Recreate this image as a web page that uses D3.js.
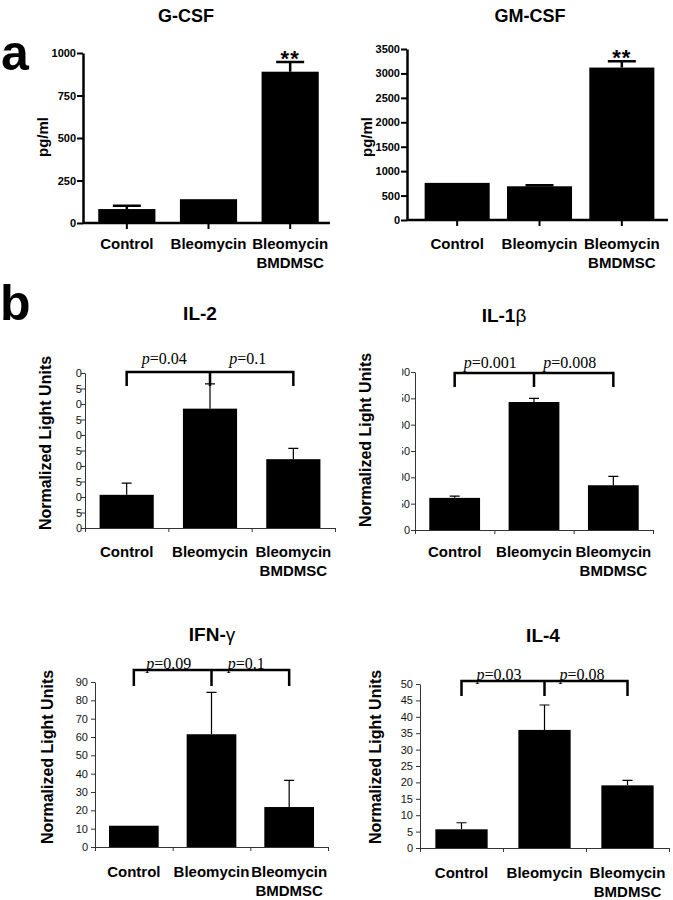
<!DOCTYPE html>
<html>
<head>
<meta charset="utf-8">
<script src="https://cdn.jsdelivr.net/npm/d3@7"></script>
<style>
  body { margin: 0; background: #fff; }
  svg { display: block; }
</style>
</head>
<body>
<div id="chart"></div>
<script>
const groups = ["Control", "Bleomycin", "Bleomycin BMDMSC"];

// panel a (pg/ml)
const gcsfMean = [82, 140, 890];
const gcsfErr = [20, 0, 57];
const gcsfTicks = [0, 250, 500, 750, 1000];
const gmcsfMean = [760, 690, 3120];
const gmcsfErr = [0, 20, 130];
const gmcsfTicks = [0, 500, 1000, 1500, 2000, 2500, 3000, 3500];

// panel b (normalized light units)
const il2Mean = [10.7, 38.5, 22.2];
const il2Err = [3.8, 8.0, 3.5];
const il2Ticks = [0, 5, 10, 15, 20, 25, 30, 35, 40, 45, 50];
const il2P = ["0.04", "0.1"];

const il1bMean = [61, 243, 85];
const il1bErr = [3.5, 7, 17];
const il1bTicks = [0, 50, 100, 150, 200, 250, 300];
const il1bP = ["0.001", "0.008"];

const ifngMean = [11.6, 61.5, 21.8];
const ifngErr = [0, 22.8, 14.5];
const ifngTicks = [0, 10, 20, 30, 40, 50, 60, 70, 80, 90];
const ifngP = ["0.09", "0.1"];

const il4Mean = [5.7, 36, 19.1];
const il4Err = [2.0, 7.6, 1.5];
const il4Ticks = [0, 5, 10, 15, 20, 25, 30, 35, 40, 45, 50];
const il4P = ["0.03", "0.08"];

const sans = "'Liberation Sans', Arial, Helvetica, sans-serif";
const serif = "'Liberation Serif', 'Times New Roman', serif";

const svg = d3.select("#chart")
    .append("svg")
    .attr("width", 673)
    .attr("height", 900)
    .style("font-family", sans);

svg.append("rect").attr("width", 673).attr("height", 900).attr("fill", "#fff");

// title with greek letters in normal weight
function addTitle(g, text, x, y, size) {
    const t = g.append("text")
        .attr("x", x).attr("y", y)
        .attr("text-anchor", "middle")
        .style("font-size", size + "px")
        .style("font-weight", "bold");
    text.split(/([α-ω])/).filter(s => s.length).forEach(s => {
        t.append("tspan")
            .style("font-weight", /[α-ω]/.test(s) ? "normal" : "bold")
            .text(s);
    });
}

function addXLabels(g, x, baseY, size) {
    groups.forEach(name => {
        const lines = name === "Bleomycin BMDMSC" ? ["Bleomycin", "BMDMSC"] : [name];
        const t = g.append("text")
            .attr("text-anchor", "middle")
            .style("font-size", size + "px")
            .style("font-weight", "bold");
        lines.forEach((l, i) => {
            t.append("tspan")
                .attr("x", x(name) + x.bandwidth() / 2)
                .attr("y", baseY + i * 19)
                .text(l);
        });
    });
}

function addYLabel(g, text, x, y, size) {
    g.append("text")
        .attr("transform", "translate(" + x + "," + y + ") rotate(-90)")
        .attr("text-anchor", "middle")
        .style("font-size", size + "px")
        .style("font-weight", "bold")
        .text(text);
}

// GraphPad style panels (a)
function drawPrism(p) {
    const g = svg.append("g");
    const y = d3.scaleLinear()
        .domain([0, d3.max(p.ticks)])
        .range([p.yBottom, p.yTop]);
    const x = d3.scaleBand()
        .domain(groups)
        .range(p.band)
        .paddingInner(p.pad)
        .paddingOuter(p.pad / 2);

    addTitle(g, p.title, p.titleX, p.titleY, 18);

    const yAxis = g.append("g")
        .attr("transform", "translate(" + p.x0 + ",0)")
        .call(d3.axisLeft(y).tickValues(p.ticks).tickFormat(d3.format("d"))
            .tickSize(6).tickSizeOuter(0).tickPadding(1));
    yAxis.select(".domain").attr("stroke-width", 2.5);
    yAxis.selectAll(".tick line").attr("stroke-width", 2);
    yAxis.selectAll(".tick text")
        .attr("fill", "#000")
        .style("font-size", "11px")
        .style("font-weight", "bold")
        .style("font-family", sans);

    const xAxis = g.append("g")
        .attr("transform", "translate(0," + y(0) + ")")
        .call(d3.axisBottom(x).tickSize(6).tickFormat(""));
    xAxis.select(".domain").remove();
    xAxis.selectAll(".tick line").attr("stroke-width", 2);
    g.append("line")
        .attr("x1", p.x0).attr("x2", p.x1)
        .attr("y1", y(0)).attr("y2", y(0))
        .attr("stroke", "#000").attr("stroke-width", 2.5);

    const rows = groups.map((k, i) => ({ k, m: p.mean[i], e: p.err[i] }));

    g.selectAll(".err")
        .data(rows.filter(d => d.e > 0))
        .enter()
        .append("path")
        .attr("d", d => {
            const cx = x(d.k) + x.bandwidth() / 2;
            return "M" + cx + "," + y(d.m) + "V" + y(d.m + d.e) +
                "M" + (cx - 14) + "," + y(d.m + d.e) + "H" + (cx + 14);
        })
        .attr("stroke", "#000")
        .attr("stroke-width", 2.5)
        .attr("fill", "none");

    g.selectAll(".bar")
        .data(rows)
        .enter()
        .append("rect")
        .attr("x", d => x(d.k))
        .attr("width", x.bandwidth())
        .attr("y", d => y(d.m))
        .attr("height", d => y(0) - y(d.m))
        .attr("fill", "#000");

    const last = rows[2];
    g.append("text")
        .attr("x", x(last.k) + x.bandwidth() / 2)
        .attr("y", y(last.m + last.e) + 4)
        .attr("text-anchor", "middle")
        .style("font-size", "22px")
        .style("font-weight", "bold")
        .style("letter-spacing", "1px")
        .text("**");

    addYLabel(g, "pg/ml", p.yLabelX, p.yLabelY, 15);
    addXLabels(g, x, p.labelY, 15);
}

// Excel style panels (b)
function drawExcel(p) {
    const g = svg.append("g");
    const y = d3.scaleLinear()
        .domain([0, d3.max(p.ticks)])
        .range([p.yBottom, p.yTop]);
    const x = d3.scaleBand()
        .domain(groups)
        .range([p.x0, p.x1])
        .paddingInner(p.pad)
        .paddingOuter(p.pad / 2);
    const xEdge = d3.scaleLinear().domain([0, groups.length]).range([p.x0, p.x1]);

    addTitle(g, p.title, p.titleX, p.titleY, 19);

    const yAxis = g.append("g")
        .attr("transform", "translate(" + p.x0 + ",0)")
        .call(d3.axisLeft(y).tickValues(p.ticks).tickFormat(d3.format("d"))
            .tickSize(4).tickSizeOuter(0).tickPadding(p.lblPad));
    yAxis.selectAll("path, line").attr("stroke", "#333");
    yAxis.selectAll(".tick text")
        .style("font-size", "11px")
        .style("font-family", sans)
        .attr("fill", "#111");
    if (p.clipX) {
        // scanned figure has the first digits cut off
        const id = "clip" + p.x0;
        svg.append("clipPath").attr("id", id)
            .append("rect")
            .attr("x", p.clipX - p.x0).attr("y", p.yTop - 20)
            .attr("width", 60).attr("height", p.yBottom - p.yTop + 40);
        yAxis.attr("clip-path", "url(#" + id + ")");
    }

    const xAxis = g.append("g")
        .attr("transform", "translate(0," + y(0) + ")")
        .call(d3.axisBottom(xEdge).tickValues([0, 1, 2, 3]).tickSize(4).tickSizeOuter(0).tickFormat(""));
    xAxis.selectAll("path, line").attr("stroke", "#333");

    const rows = groups.map((k, i) => ({ k, m: p.mean[i], e: p.err[i] }));

    g.selectAll(".err")
        .data(rows.filter(d => d.e > 0))
        .enter()
        .append("path")
        .attr("d", d => {
            const cx = x(d.k) + x.bandwidth() / 2;
            return "M" + cx + "," + y(d.m) + "V" + y(d.m + d.e) +
                "M" + (cx - 5) + "," + y(d.m + d.e) + "H" + (cx + 5);
        })
        .attr("stroke", "#000")
        .attr("stroke-width", 1.2)
        .attr("fill", "none");

    g.selectAll(".bar")
        .data(rows)
        .enter()
        .append("rect")
        .attr("x", d => x(d.k))
        .attr("width", x.bandwidth())
        .attr("y", d => y(d.m))
        .attr("height", d => y(0) - y(d.m))
        .attr("fill", "#000");

    // significance bracket
    const c = groups.map(k => x(k) + x.bandwidth() / 2);
    const by = p.bracketY, leg = p.leg;
    g.append("path")
        .attr("d", "M" + c[0] + "," + (by + leg) + "V" + by + "H" + c[2] + "V" + (by + leg) +
            "M" + c[1] + "," + by + "V" + (by + leg))
        .attr("stroke", "#000")
        .attr("stroke-width", 2.5)
        .attr("fill", "none");

    p.pvals.forEach((v, i) => {
        const t = g.append("text")
            .attr("x", (c[i] + c[i + 1]) / 2 - 4)
            .attr("y", p.pY)
            .attr("text-anchor", "middle")
            .style("font-family", serif)
            .style("font-size", "16px");
        t.append("tspan").style("font-style", "italic").text("p");
        t.append("tspan").text("=" + v);
    });

    addYLabel(g, "Normalized Light Units", p.yLabelX, p.yLabelY, 16);
    addXLabels(g, x, p.labelY, 15);
}

// panel letters
svg.append("text").attr("x", 1).attr("y", 70)
    .style("font-size", "50px").style("font-weight", "bold").text("a");
svg.append("text").attr("x", 0).attr("y", 320)
    .style("font-size", "50px").style("font-weight", "bold").text("b");

drawPrism({ title: "G-CSF", titleX: 186, titleY: 22, mean: gcsfMean, err: gcsfErr, ticks: gcsfTicks,
    x0: 83, x1: 330, band: [86, 331], pad: 0.3, yTop: 53, yBottom: 223,
    yLabelX: 48, yLabelY: 137, labelY: 249 });
drawPrism({ title: "GM-CSF", titleX: 530, titleY: 22, mean: gmcsfMean, err: gmcsfErr, ticks: gmcsfTicks,
    x0: 407, x1: 668, band: [416, 663], pad: 0.21, yTop: 49, yBottom: 220,
    yLabelX: 372, yLabelY: 137, labelY: 249 });

drawExcel({ title: "IL-2", titleX: 200, titleY: 320, mean: il2Mean, err: il2Err, ticks: il2Ticks, pvals: il2P,
    x0: 85, x1: 335, pad: 0.35, yTop: 373, yBottom: 528, clipX: 76, lblPad: -1,
    bracketY: 372, leg: 14, pY: 364, yLabelX: 51, yLabelY: 443, labelY: 557 });
drawExcel({ title: "IL-1β", titleX: 504, titleY: 322, mean: il1bMean, err: il1bErr, ticks: il1bTicks, pvals: il1bP,
    x0: 415, x1: 653, pad: 0.36, yTop: 372, yBottom: 530, clipX: 402, lblPad: 1,
    bracketY: 373, leg: 14, pY: 368, yLabelX: 371, yLabelY: 440, labelY: 557 });
drawExcel({ title: "IFN-γ", titleX: 212, titleY: 641, mean: ifngMean, err: ifngErr, ticks: ifngTicks, pvals: ifngP,
    x0: 95, x1: 328, pad: 0.36, yTop: 682, yBottom: 847, lblPad: 3,
    bracketY: 670, leg: 16, pY: 669, yLabelX: 53, yLabelY: 757, labelY: 877 });
drawExcel({ title: "IL-4", titleX: 543, titleY: 642, mean: il4Mean, err: il4Err, ticks: il4Ticks, pvals: il4P,
    x0: 420, x1: 669, pad: 0.37, yTop: 684, yBottom: 848, lblPad: 3,
    bracketY: 681, leg: 15, pY: 680, yLabelX: 381, yLabelY: 757, labelY: 878 });
</script>
</body>
</html>
